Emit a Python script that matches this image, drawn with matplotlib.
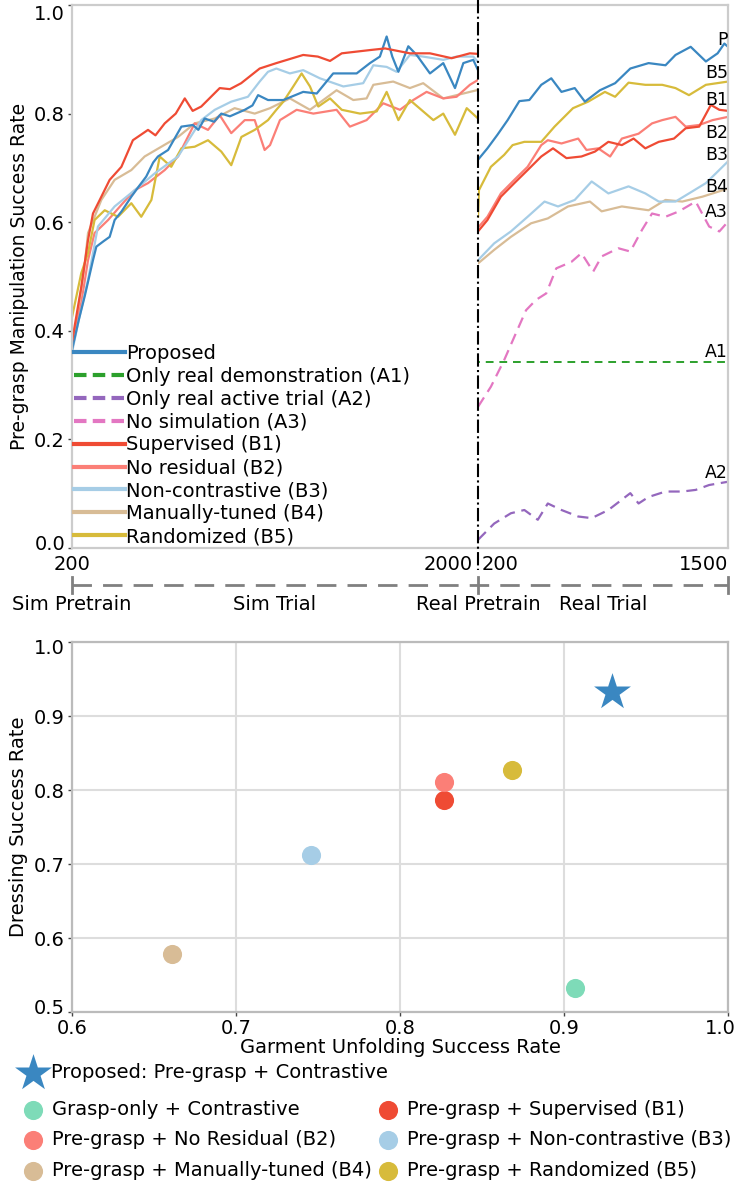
import matplotlib
matplotlib.use('Agg')
import matplotlib.pyplot as plt
from matplotlib.lines import Line2D
from matplotlib.transforms import ScaledTranslation

# ---- top panel: success rate vs. training step ----
# simulation phase, step 200..2000
sim_proposed = [(200, 0.365), (230, 0.42), (256, 0.463), (293, 0.530), (308, 0.555), (340, 0.565),
                (367, 0.573), (389, 0.604), (420, 0.62), (463, 0.647), (500, 0.668), (529, 0.684),
                (560, 0.71), (581, 0.721), (626, 0.733), (685, 0.776), (736, 0.779), (760, 0.770),
                (788, 0.791), (830, 0.785), (862, 0.800), (900, 0.795), (966, 0.807), (1000, 0.815),
                (1025, 0.834), (1069, 0.825), (1137, 0.825), (1225, 0.840), (1285, 0.837), (1358, 0.874),
                (1462, 0.874), (1521, 0.893), (1565, 0.905), (1595, 0.942), (1620, 0.905), (1647, 0.877),
                (1691, 0.924), (1728, 0.908), (1787, 0.874), (1846, 0.893), (1898, 0.847), (1935, 0.893),
                (1979, 0.899), (2000, 0.880)]
sim_supervised = [(200, 0.38), (241, 0.48), (271, 0.567), (293, 0.616), (323, 0.641), (367, 0.678),
                  (419, 0.702), (470, 0.751), (537, 0.770), (570, 0.76), (611, 0.782), (660, 0.80),
                  (700, 0.828), (735, 0.805), (773, 0.813), (855, 0.847), (900, 0.845), (950, 0.856),
                  (1032, 0.883), (1106, 0.893), (1225, 0.908), (1290, 0.905), (1344, 0.897), (1396, 0.911),
                  (1521, 0.917), (1588, 0.920), (1698, 0.911), (1787, 0.911), (1883, 0.902), (1964, 0.911),
                  (2000, 0.910)]
sim_noresidual = [(200, 0.375), (241, 0.451), (271, 0.530), (300, 0.580), (360, 0.604), (419, 0.632),
                  (478, 0.659), (537, 0.672), (611, 0.696), (670, 0.721), (744, 0.782), (803, 0.770),
                  (855, 0.797), (906, 0.764), (966, 0.788), (1010, 0.788), (1054, 0.733), (1078, 0.742),
                  (1122, 0.788), (1196, 0.807), (1270, 0.800), (1373, 0.807), (1432, 0.776), (1506, 0.788),
                  (1580, 0.819), (1654, 0.807), (1713, 0.825), (1772, 0.840), (1846, 0.828), (1905, 0.831),
                  (1964, 0.853), (2000, 0.862)]
sim_noncontrastive = [(200, 0.36), (230, 0.42), (271, 0.494), (315, 0.592), (389, 0.629), (478, 0.659),
                      (567, 0.690), (670, 0.721), (707, 0.745), (773, 0.788), (833, 0.807), (906, 0.822),
                      (980, 0.831), (1032, 0.859), (1069, 0.877), (1106, 0.883), (1166, 0.874), (1225, 0.880),
                      (1299, 0.865), (1403, 0.850), (1491, 0.856), (1536, 0.889), (1595, 0.886), (1639, 0.877),
                      (1698, 0.908), (1757, 0.905), (1846, 0.899), (1905, 0.905), (1979, 0.905), (2000, 0.895)]
sim_manual = [(200, 0.39), (212, 0.396), (256, 0.52), (271, 0.580), (330, 0.641), (389, 0.678),
              (463, 0.696), (522, 0.721), (596, 0.739), (670, 0.757), (744, 0.782), (833, 0.791),
              (921, 0.810), (1010, 0.800), (1078, 0.810), (1166, 0.828), (1255, 0.807), (1373, 0.843),
              (1447, 0.825), (1506, 0.828), (1536, 0.853), (1624, 0.859), (1698, 0.847), (1757, 0.856),
              (1846, 0.828), (1935, 0.837), (1994, 0.843), (2000, 0.845)]
sim_randomized = [(200, 0.425), (241, 0.506), (271, 0.543), (300, 0.604), (345, 0.622), (404, 0.610),
                  (463, 0.635), (507, 0.610), (552, 0.641), (589, 0.721), (640, 0.702), (685, 0.736),
                  (744, 0.739), (803, 0.751), (862, 0.730), (906, 0.705), (951, 0.757), (1010, 0.770),
                  (1069, 0.788), (1106, 0.807), (1137, 0.822), (1181, 0.850), (1218, 0.874), (1255, 0.850),
                  (1292, 0.813), (1344, 0.828), (1396, 0.807), (1477, 0.800), (1551, 0.804), (1595, 0.840),
                  (1647, 0.788), (1698, 0.825), (1757, 0.804), (1802, 0.788), (1846, 0.800), (1898, 0.761),
                  (1950, 0.810), (2000, 0.791)]

# real phase, step 200..1500
real_proposed = [(200, 0.715), (249, 0.736), (301, 0.761), (354, 0.788), (415, 0.823), (467, 0.825),
                 (529, 0.853), (581, 0.865), (634, 0.840), (703, 0.847), (756, 0.822), (834, 0.843),
                 (913, 0.856), (992, 0.883), (1087, 0.893), (1175, 0.889), (1227, 0.908), (1306, 0.923),
                 (1385, 0.896), (1446, 0.911), (1481, 0.929), (1500, 0.923)]
real_demo_level = 0.343
real_active = [(200, 0.015), (284, 0.045), (371, 0.064), (441, 0.070), (511, 0.052), (563, 0.082),
               (634, 0.070), (721, 0.058), (791, 0.055), (878, 0.070), (992, 0.101), (1035, 0.082),
               (1087, 0.094), (1175, 0.104), (1262, 0.104), (1332, 0.107), (1402, 0.116), (1500, 0.122)]
real_nosim = [(200, 0.260), (267, 0.297), (336, 0.346), (389, 0.389), (450, 0.438), (502, 0.457),
              (555, 0.469), (607, 0.515), (686, 0.527), (738, 0.543), (799, 0.509), (843, 0.537),
              (930, 0.552), (992, 0.546), (1053, 0.586), (1105, 0.616), (1175, 0.610), (1245, 0.620),
              (1332, 0.638), (1402, 0.592), (1455, 0.583), (1500, 0.601)]
real_supervised = [(200, 0.583), (249, 0.604), (319, 0.647), (389, 0.672), (458, 0.696), (529, 0.721),
                   (590, 0.736), (660, 0.718), (738, 0.721), (808, 0.730), (878, 0.748), (948, 0.742),
                   (1009, 0.754), (1070, 0.736), (1140, 0.748), (1219, 0.754), (1280, 0.773), (1350, 0.776),
                   (1411, 0.816), (1455, 0.807), (1500, 0.805)]
real_noresidual = [(200, 0.590), (249, 0.610), (319, 0.653), (389, 0.678), (458, 0.702), (529, 0.742),
                   (563, 0.751), (634, 0.745), (721, 0.754), (764, 0.733), (825, 0.736), (887, 0.721),
                   (948, 0.754), (1035, 0.763), (1105, 0.782), (1158, 0.788), (1227, 0.794), (1280, 0.776),
                   (1350, 0.779), (1420, 0.788), (1500, 0.794)]
real_noncontrastive = [(200, 0.530), (284, 0.561), (371, 0.583), (458, 0.610), (546, 0.638), (616, 0.629),
                       (703, 0.641), (791, 0.675), (878, 0.653), (983, 0.666), (1070, 0.653), (1140, 0.638),
                       (1227, 0.638), (1297, 0.653), (1385, 0.672), (1437, 0.690), (1500, 0.712)]
real_manual = [(200, 0.524), (284, 0.549), (371, 0.573), (476, 0.598), (563, 0.607), (668, 0.629),
               (782, 0.638), (843, 0.620), (948, 0.629), (1087, 0.622), (1175, 0.641), (1262, 0.638),
               (1367, 0.647), (1500, 0.662)]
real_randomized = [(200, 0.61), (205, 0.659), (267, 0.702), (336, 0.724), (380, 0.742), (441, 0.748),
                   (529, 0.748), (598, 0.776), (694, 0.810), (773, 0.822), (860, 0.840), (913, 0.831),
                   (983, 0.857), (1070, 0.853), (1158, 0.853), (1227, 0.847), (1297, 0.834), (1385, 0.853),
                   (1500, 0.859)]

# end-of-curve tags and their heights
end_tags = ['P', 'B5', 'B1', 'B2', 'B3', 'B4', 'A3', 'A1', 'A2']
end_tag_y = [0.936, 0.875, 0.825, 0.764, 0.724, 0.665, 0.619, 0.361, 0.138]

phase_names = ['Sim Pretrain', 'Sim Trial', 'Real Pretrain', 'Real Trial']

# ---- bottom panel: unfolding vs dressing success ----
methods = ['Proposed: Pre-grasp + Contrastive', 'Grasp-only + Contrastive',
           'Pre-grasp + Supervised (B1)', 'Pre-grasp + No Residual (B2)',
           'Pre-grasp + Non-contrastive (B3)', 'Pre-grasp + Manually-tuned (B4)',
           'Pre-grasp + Randomized (B5)']
unfolding = [0.929, 0.907, 0.827, 0.827, 0.746, 0.661, 0.868]
dressing = [0.933, 0.533, 0.787, 0.811, 0.712, 0.579, 0.827]

C_PROP = '#3a87c1'
C_SUP = '#ef4b34'
C_RES = '#fb7f77'
C_NC = '#a6cde6'
C_MAN = '#d8bc96'
C_RAND = '#d7bb3b'
C_A1 = '#2ca02c'
C_A2 = '#9467bd'
C_A3 = '#e377c2'
C_GRASP = '#7edbb8'

FS = 14
plt.rcParams['font.family'] = 'DejaVu Sans'
W, H = 735, 1183
fig = plt.figure(figsize=(W / 100, H / 100), dpi=100)


def fx(px):
    return px / W


def fy(py):
    return 1 - py / H


def xy(pairs):
    return [p[0] for p in pairs], [p[1] for p in pairs]


def shift(label, dx_px, dy_px=0):
    label.set_transform(label.get_transform() +
                        ScaledTranslation(dx_px / 100, dy_px / 100, fig.dpi_scale_trans))


ax_sim = fig.add_axes([fx(72), fy(548), fx(478) - fx(72), fy(5) - fy(548)])
ax_real = fig.add_axes([fx(478), fy(548), fx(728) - fx(478), fy(5) - fy(548)])

LW = 1.6
for data, c in [(sim_manual, C_MAN), (sim_noresidual, C_RES), (sim_randomized, C_RAND),
                (sim_noncontrastive, C_NC), (sim_proposed, C_PROP), (sim_supervised, C_SUP)]:
    ax_sim.plot(*xy(data), color=c, lw=LW)

for data, c in [(real_manual, C_MAN), (real_noncontrastive, C_NC), (real_noresidual, C_RES),
                (real_supervised, C_SUP), (real_randomized, C_RAND), (real_proposed, C_PROP)]:
    ax_real.plot(*xy(data), color=c, lw=LW)
ax_real.plot([200, 1500], [real_demo_level, real_demo_level], color=C_A1, lw=1.4, ls=(3, (4, 3)))
ax_real.plot(*xy(real_nosim), color=C_A3, lw=LW, ls=(0, (5, 3)))
ax_real.plot(*xy(real_active), color=C_A2, lw=LW, ls=(0, (5, 3)))

for t, ty in zip(end_tags, end_tag_y):
    ax_real.text(1500, ty, t, ha='right', va='center', fontsize=12.5)

for ax in (ax_sim, ax_real):
    ax.set_ylim(0, 1.0)
    for s in ax.spines.values():
        s.set_color('#cccccc')
        s.set_linewidth(1.6)
ax_sim.set_xlim(200, 2000)
ax_real.set_xlim(200, 1500)
ax_sim.spines['right'].set_visible(False)
ax_real.spines['left'].set_visible(False)
ax_real.set_yticks([])

ax_sim.set_yticks([0.0, 0.2, 0.4, 0.6, 0.8, 1.0])
ax_sim.set_yticklabels(['0.0', '0.2', '0.4', '0.6', '0.8', '1.0'])
ax_sim.tick_params(axis='y', labelsize=FS, length=3, width=1, pad=2, color='#444444')
ax_sim.set_ylabel('Pre-grasp Manipulation Success Rate', fontsize=13.5, labelpad=4)
ylab = ax_sim.get_yticklabels()
shift(ylab[0], 0, 6)
shift(ylab[-1], 0, -7)

ax_sim.set_xticks([200, 2000])
ax_sim.set_xticklabels(['200', '2000'])
ax_real.set_xticks([200, 1500])
ax_real.set_xticklabels(['200', '1500'])
for ax in (ax_sim, ax_real):
    ax.tick_params(axis='x', labelsize=FS, length=0, pad=5)
lab = ax_sim.get_xticklabels()
lab[1].set_ha('right')
shift(lab[1], -5)
lab = ax_real.get_xticklabels()
lab[0].set_ha('left')
shift(lab[0], 4)
lab[1].set_ha('right')

legend_handles = [
    Line2D([], [], color=C_PROP, lw=3, label='Proposed'),
    Line2D([], [], color=C_A1, lw=3, ls=(0, (3, 1.5)), label='Only real demonstration (A1)'),
    Line2D([], [], color=C_A2, lw=3, ls=(0, (3, 1.5)), label='Only real active trial (A2)'),
    Line2D([], [], color=C_A3, lw=3, ls=(0, (3, 1.5)), label='No simulation (A3)'),
    Line2D([], [], color=C_SUP, lw=3, label='Supervised (B1)'),
    Line2D([], [], color=C_RES, lw=3, label='No residual (B2)'),
    Line2D([], [], color=C_NC, lw=3, label='Non-contrastive (B3)'),
    Line2D([], [], color=C_MAN, lw=3, label='Manually-tuned (B4)'),
    Line2D([], [], color=C_RAND, lw=3, label='Randomized (B5)'),
]
ax_sim.legend(handles=legend_handles, loc='lower left', bbox_to_anchor=(0.0, 0.0),
              frameon=False, fontsize=FS, handlelength=2.6, handletextpad=0.1,
              labelspacing=0.2, borderpad=0.05, borderaxespad=0.05)

# phase divider and phase bar
fig.add_artist(Line2D([fx(478), fx(478)], [fy(0), fy(570)], transform=fig.transFigure,
                      color='black', lw=1.5, ls='-.'))
fig.add_artist(Line2D([fx(72), fx(728)], [fy(585), fy(585)], transform=fig.transFigure,
                      color='#808080', lw=2, ls=(0, (7, 4))))
for px in (72, 478, 728):
    fig.add_artist(Line2D([fx(px), fx(px)], [fy(577), fy(593)], transform=fig.transFigure,
                          color='#808080', lw=2))
for name, px in zip(phase_names, [72, 275, 478, 603]):
    fig.text(fx(px), fy(604), name, ha='center', va='center', fontsize=FS)

# ---- scatter ----
ax_sc = fig.add_axes([fx(72), fy(1012), fx(728) - fx(72), fy(642) - fy(1012)])
colors = [C_PROP, C_GRASP, C_SUP, C_RES, C_NC, C_MAN, C_RAND]
handles = []
for i, (m, u, d, c) in enumerate(zip(methods, unfolding, dressing, colors)):
    if i == 0:
        h = ax_sc.scatter(u, d, marker='*', s=780, color=c, zorder=3, label=m, linewidths=0)
    else:
        h = ax_sc.scatter(u, d, marker='o', s=190, color=c, zorder=3, label=m, linewidths=0)
    handles.append(h)

ax_sc.set_xlim(0.6, 1.0)
ax_sc.set_ylim(0.5, 1.0)
ax_sc.set_xticks([0.6, 0.7, 0.8, 0.9, 1.0])
ax_sc.set_yticks([0.5, 0.6, 0.7, 0.8, 0.9, 1.0])
ax_sc.grid(True, color='#dddddd', lw=1.5)
ax_sc.set_axisbelow(True)
for s in ax_sc.spines.values():
    s.set_color('#bbbbbb')
    s.set_linewidth(1.6)
ax_sc.tick_params(labelsize=FS, length=3, width=1, pad=2, color='#444444')
shift(ax_sc.get_xticklabels()[-1], -8)
sylab = ax_sc.get_yticklabels()
shift(sylab[0], 0, 6)
shift(sylab[-1], 0, -5)
ax_sc.set_xlabel('Garment Unfolding Success Rate', fontsize=FS, labelpad=0)
ax_sc.set_ylabel('Dressing Success Rate', fontsize=FS, labelpad=4)

fig.legend(handles=[handles[0]], loc='upper left', bbox_to_anchor=(fx(9), fy(1053)),
           frameon=False, fontsize=FS, handlelength=1.5, handletextpad=0.15,
           borderpad=0)
order = [1, 3, 5, 2, 4, 6]
fig.legend(handles=[handles[i] for i in order], loc='upper left',
           bbox_to_anchor=(fx(14), fy(1090)), ncol=2, frameon=False, fontsize=FS,
           handlelength=1.0, handletextpad=0.45, columnspacing=0.35, labelspacing=0.6,
           borderpad=0)

fig.savefig('out.png', dpi=100)
